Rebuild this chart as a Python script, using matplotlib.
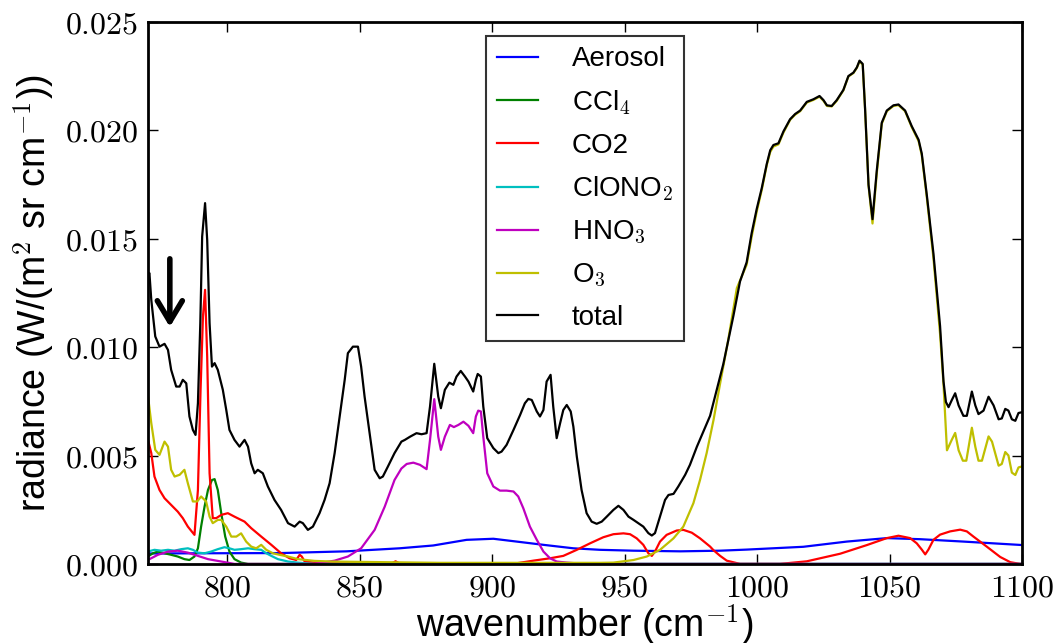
import matplotlib
matplotlib.use("Agg")
import matplotlib.pyplot as plt
from matplotlib.ticker import FuncFormatter, MultipleLocator

plt.rcParams['mathtext.fontset'] = 'cm'
plt.rcParams['font.family'] = ['Liberation Sans', 'DejaVu Sans']

# wavenumber (cm^-1) / radiance pairs
total_x = [770.0, 770.6, 771.3, 772.8, 774.4, 776.3, 777.6, 778.8, 780.7, 782.0, 783.2, 784.5,
           785.7, 787.0, 788.0, 788.9, 789.8, 790.5, 791.6, 792.4, 793.3, 794.2, 795.2, 796.4,
           798.3, 799.6, 800.8, 802.7, 804.6, 806.5, 807.8, 809.0, 810.3, 811.5, 813.4, 815.3,
           817.8, 820.3, 822.9, 825.4, 827.3, 828.5, 830.4, 832.3, 834.8, 836.7, 838.6, 840.5,
           842.4, 844.3, 845.5, 847.4, 849.3, 850.5, 851.8, 853.7, 855.6, 857.5, 858.7, 860.6,
           863.1, 865.7, 867.0, 869.0, 871.4, 873.3, 875.2, 876.5, 878.1, 879.6, 880.6, 882.1,
           883.8, 885.3, 886.5, 888.1, 889.7, 891.0, 892.8, 893.8, 894.5, 895.7, 896.6, 898.1,
           900.4, 902.3, 903.5, 905.4, 908.0, 910.5, 912.3, 913.6, 914.9, 916.8, 918.0, 919.3,
           920.5, 922.0, 923.0, 924.3, 925.6, 926.8, 928.1, 929.6, 930.6, 931.9, 933.7, 935.6,
           937.5, 939.4, 941.3, 943.2, 945.7, 947.6, 949.5, 951.4, 953.3, 955.1, 957.0, 958.9,
           960.2, 961.4, 963.3, 965.2, 966.5, 968.4, 970.2, 972.8, 974.6, 977.2, 982.2, 987.2,
           991.0, 993.5, 996.0, 997.9, 999.8, 1001.7, 1003.6, 1004.9, 1006.1, 1008.0, 1009.9,
           1012.4, 1014.3, 1016.2, 1018.7, 1021.2, 1023.5, 1025.0, 1026.3, 1028.1, 1030.0,
           1032.5, 1034.4, 1036.3, 1037.6, 1038.6, 1039.8, 1040.7, 1042.0, 1043.5, 1045.1,
           1047.0, 1048.9, 1051.4, 1053.3, 1055.8, 1058.3, 1060.9, 1062.1, 1064.0, 1066.5,
           1069.0, 1070.3, 1071.2, 1072.2, 1073.4, 1074.7, 1076.0, 1077.8, 1079.1, 1081.0,
           1082.3, 1083.5, 1085.4, 1087.3, 1089.2, 1091.1, 1092.3, 1093.6, 1094.8, 1096.1,
           1097.4, 1098.6, 1100.0]
total_y = [0.01330, 0.01341, 0.01218, 0.01049, 0.01002, 0.01015, 0.00987, 0.00895, 0.00818,
           0.00818, 0.00849, 0.00833, 0.00680, 0.00618, 0.00595, 0.00741, 0.01110, 0.01510,
           0.01664, 0.01494, 0.01110, 0.00910, 0.00926, 0.00895, 0.00803, 0.00710, 0.00618,
           0.00572, 0.00541, 0.00572, 0.00541, 0.00464, 0.00418, 0.00434, 0.00418, 0.00357,
           0.00295, 0.00249, 0.00188, 0.00172, 0.00195, 0.00188, 0.00157, 0.00172, 0.00234,
           0.00295, 0.00372, 0.00511, 0.00680, 0.00849, 0.00972, 0.01002, 0.01002, 0.00910,
           0.00772, 0.00603, 0.00434, 0.00395, 0.00403, 0.00449, 0.00511, 0.00564, 0.00572,
           0.00587, 0.00603, 0.00598, 0.00603, 0.00726, 0.00923, 0.00772, 0.00718, 0.00803,
           0.00836, 0.00826, 0.00864, 0.00890, 0.00864, 0.00841, 0.00795, 0.00849, 0.00876,
           0.00864, 0.00726, 0.00580, 0.00534, 0.00511, 0.00518, 0.00549, 0.00618, 0.00687,
           0.00741, 0.00761, 0.00756, 0.00703, 0.00680, 0.00710, 0.00841, 0.00872, 0.00726,
           0.00580, 0.00649, 0.00710, 0.00733, 0.00703, 0.00633, 0.00495, 0.00341, 0.00234,
           0.00195, 0.00185, 0.00195, 0.00218, 0.00249, 0.00268, 0.00249, 0.00218, 0.00203,
           0.00188, 0.00172, 0.00142, 0.00131, 0.00142, 0.00218, 0.00295, 0.00318, 0.00323,
           0.00357, 0.00411, 0.00457, 0.00540, 0.00683, 0.00922, 0.01144, 0.01303, 0.01391,
           0.01526, 0.01637, 0.01733, 0.01845, 0.01908, 0.01932, 0.01940, 0.01995, 0.02051,
           0.02075, 0.02091, 0.02131, 0.02143, 0.02158, 0.02139, 0.02115, 0.02112, 0.02139,
           0.02186, 0.02250, 0.02266, 0.02290, 0.02321, 0.02306, 0.02099, 0.01749, 0.01590,
           0.01813, 0.02035, 0.02091, 0.02115, 0.02119, 0.02091, 0.02019, 0.01956, 0.01892,
           0.01701, 0.01431, 0.01097, 0.00842, 0.00747, 0.00723, 0.00755, 0.00787, 0.00731,
           0.00683, 0.00683, 0.00795, 0.00731, 0.00691, 0.00707, 0.00771, 0.00731, 0.00667,
           0.00671, 0.00715, 0.00707, 0.00667, 0.00660, 0.00696, 0.00700]

o3_x = [770.0, 771.3, 772.8, 774.4, 776.3, 777.6, 778.8, 780.1, 782.0, 783.8, 785.1, 787.0,
        788.6, 790.1, 792.0, 793.3, 794.5, 796.4, 797.7, 799.6, 801.5, 803.4, 805.2, 807.1,
        809.0, 810.9, 812.8, 814.7, 817.2, 819.7, 822.9, 826.6, 832.9, 839.2, 845.5, 880.0,
        940.7, 945.7, 953.3, 958.3, 963.3, 968.4, 972.1, 975.9, 978.4, 980.9, 983.5, 986.0,
        989.0, 992.3, 996.0, 997.9, 999.8, 1001.7, 1003.6, 1004.9, 1006.1, 1008.0, 1009.9,
        1012.4, 1014.3, 1016.2, 1018.7, 1021.2, 1023.5, 1025.0, 1026.3, 1028.1, 1030.0,
        1032.5, 1034.4, 1036.3, 1037.6, 1038.6, 1039.8, 1040.7, 1042.0, 1043.5, 1045.1,
        1047.0, 1048.9, 1051.4, 1053.3, 1055.8, 1058.3, 1060.9, 1062.1, 1064.0, 1066.5,
        1069.0, 1070.3, 1071.6, 1073.4, 1074.7, 1076.0, 1077.6, 1078.9, 1081.0, 1082.3,
        1083.5, 1084.8, 1087.3, 1088.6, 1091.1, 1092.3, 1093.6, 1094.8, 1096.1, 1097.4,
        1098.6, 1100.0]
o3_y = [0.00780, 0.00649, 0.00526, 0.00503, 0.00564, 0.00541, 0.00434, 0.00403, 0.00411,
        0.00434, 0.00372, 0.00288, 0.00288, 0.00311, 0.00288, 0.00218, 0.00188, 0.00203,
        0.00203, 0.00172, 0.00126, 0.00126, 0.00141, 0.00103, 0.00080, 0.00072, 0.00088,
        0.00065, 0.00049, 0.00042, 0.00034, 0.00022, 0.00014, 0.00011, 0.00010, 0.00005,
        0.00005, 0.00006, 0.00018, 0.00034, 0.00065, 0.00118, 0.00172, 0.00280, 0.00387,
        0.00511, 0.00664, 0.00833, 0.01030, 0.01272, 0.01380, 0.01510, 0.01625, 0.01725,
        0.01840, 0.01900, 0.01925, 0.01935, 0.01990, 0.02048, 0.02072, 0.02088, 0.02128,
        0.02140, 0.02155, 0.02136, 0.02112, 0.02110, 0.02136, 0.02184, 0.02248, 0.02264,
        0.02288, 0.02318, 0.02303, 0.02095, 0.01745, 0.01570, 0.01800, 0.02030, 0.02088,
        0.02112, 0.02116, 0.02088, 0.02015, 0.01950, 0.01885, 0.01690, 0.01410, 0.01060,
        0.00827, 0.00524, 0.00572, 0.00604, 0.00524, 0.00476, 0.00476, 0.00628, 0.00540,
        0.00476, 0.00476, 0.00588, 0.00564, 0.00453, 0.00461, 0.00516, 0.00500, 0.00421,
        0.00410, 0.00445, 0.00450]

co2_x = [770.0, 771.3, 772.5, 774.4, 776.3, 778.8, 781.3, 783.2, 785.1, 787.6, 788.9, 789.9,
         790.8, 791.6, 792.4, 793.3, 794.5, 795.8, 797.7, 800.2, 802.7, 806.5, 809.0, 812.8,
         816.6, 820.3, 823.5, 826.0, 827.3, 828.1, 829.2, 832.9, 839.2, 862.0, 863.5, 865.0,
         909.2, 915.5, 921.8, 926.8, 931.9, 936.9, 941.9, 945.7, 949.5, 952.0, 954.5, 957.0,
         958.9, 960.2, 961.4, 963.3, 965.8, 969.6, 972.1, 975.3, 978.4, 982.2, 983.5, 986.0,
         988.5, 993.5, 1008.6, 1018.7, 1031.3, 1041.4, 1048.9, 1053.3, 1057.7, 1060.2, 1062.1,
         1063.4, 1064.6, 1066.5, 1069.0, 1072.8, 1076.6, 1079.1, 1081.6, 1086.7, 1091.7,
         1095.5, 1099.2, 1100.0]
co2_y = [0.00575, 0.00511, 0.00403, 0.00341, 0.00303, 0.00272, 0.00241, 0.00211, 0.00172,
         0.00134, 0.00341, 0.00803, 0.01141, 0.01264, 0.00956, 0.00418, 0.00211, 0.00211,
         0.00226, 0.00234, 0.00218, 0.00195, 0.00165, 0.00126, 0.00088, 0.00049, 0.00026,
         0.00018, 0.00042, 0.00034, 0.00011, 0.00006, 0.00003, 0.00002, 0.00012, 0.00002,
         0.00003, 0.00015, 0.00026, 0.00037, 0.00065, 0.00095, 0.00123, 0.00137, 0.00141,
         0.00137, 0.00118, 0.00088, 0.00049, 0.00037, 0.00057, 0.00103, 0.00134, 0.00154,
         0.00157, 0.00144, 0.00118, 0.00080, 0.00063, 0.00037, 0.00015, 0.00000, 0.00000,
         0.00012, 0.00047, 0.00087, 0.00119, 0.00130, 0.00119, 0.00095, 0.00066, 0.00044,
         0.00066, 0.00111, 0.00135, 0.00150, 0.00158, 0.00150, 0.00126, 0.00079, 0.00032,
         0.00008, 0.00000, 0.00000]

aerosol_x = [770.0, 790.0, 820.0, 845.0, 865.0, 877.7, 890.3, 900.4, 909.2, 919.3, 930.6,
             940.7, 953.3, 971.0, 986.0, 996.0, 1017.4, 1033.8, 1048.9, 1061.5, 1077.8, 1100.0]
aerosol_y = [0.00048, 0.00049, 0.00050, 0.00058, 0.00072, 0.00085, 0.00111, 0.00116, 0.00103,
             0.00088, 0.00072, 0.00065, 0.00061, 0.00058, 0.00061, 0.00066, 0.00079, 0.00103,
             0.00119, 0.00114, 0.00103, 0.00087]

ccl4_x = [770.0, 771.9, 773.8, 776.3, 778.8, 781.3, 783.8, 785.7, 787.6, 788.9, 790.1, 791.4,
          792.7, 794.2, 795.2, 796.4, 797.7, 799.2, 800.8, 802.7, 805.2, 807.8, 1100.0]
ccl4_y = [0.00034, 0.00049, 0.00057, 0.00049, 0.00042, 0.00034, 0.00022, 0.00018, 0.00034,
          0.00072, 0.00172, 0.00264, 0.00341, 0.00387, 0.00391, 0.00341, 0.00234, 0.00126,
          0.00057, 0.00022, 0.00006, 0.0, 0.0]

clono2_x = [770.0, 772.5, 775.0, 777.6, 780.1, 782.6, 785.1, 787.0, 788.9, 791.4, 793.9, 796.4,
            798.9, 800.8, 802.7, 805.2, 807.8, 810.3, 812.8, 814.7, 816.6, 819.1, 822.9, 826.6,
            832.9, 1100.0]
clono2_y = [0.00057, 0.00065, 0.00061, 0.00065, 0.00061, 0.00068, 0.00072, 0.00065, 0.00052,
            0.00049, 0.00057, 0.00068, 0.00077, 0.00072, 0.00065, 0.00068, 0.00072, 0.00068,
            0.00065, 0.00049, 0.00037, 0.00022, 0.00011, 0.00006, 0.0, 0.0]

hno3_x = [770.0, 773.8, 777.6, 781.3, 785.1, 788.9, 792.7, 797.7, 802.7, 832.9, 840.5, 845.5,
          850.5, 855.6, 859.4, 863.1, 865.7, 867.7, 870.2, 872.7, 875.2, 876.5, 878.1, 879.6,
          880.6, 882.1, 884.0, 885.5, 887.2, 889.1, 891.0, 892.8, 893.8, 894.7, 895.7, 896.6,
          898.1, 900.4, 902.9, 905.4, 908.0, 909.8, 911.7, 914.2, 916.8, 919.3, 921.8, 924.3,
          928.1, 935.0, 1100.0]
hno3_y = [0.00018, 0.00042, 0.00057, 0.00061, 0.00052, 0.00037, 0.00022, 0.00011, 0.0, 0.0,
          0.00015, 0.00034, 0.00072, 0.00157, 0.00264, 0.00387, 0.00440, 0.00461, 0.00467,
          0.00457, 0.00437, 0.00572, 0.00760, 0.00587, 0.00526, 0.00587, 0.00641, 0.00631,
          0.00641, 0.00656, 0.00637, 0.00603, 0.00680, 0.00707, 0.00703, 0.00587, 0.00418,
          0.00357, 0.00338, 0.00338, 0.00334, 0.00311, 0.00257, 0.00172, 0.00111, 0.00057,
          0.00026, 0.00011, 0.00006, 0.0, 0.0]

series = [
    ('Aerosol', aerosol_x, aerosol_y, 'b'),
    ('CCl$_4$', ccl4_x, ccl4_y, 'g'),
    ('CO2', co2_x, co2_y, 'r'),
    ('ClONO$_2$', clono2_x, clono2_y, 'c'),
    ('HNO$_3$', hno3_x, hno3_y, 'm'),
    ('O$_3$', o3_x, o3_y, 'y'),
    ('total', total_x, total_y, 'k'),
]
# old-style matplotlib single-letter colours
colors = {'b': (0, 0, 1), 'g': (0, 0.5, 0), 'r': (1, 0, 0), 'c': (0, 0.75, 0.75),
          'm': (0.75, 0, 0.75), 'y': (0.75, 0.75, 0), 'k': (0, 0, 0)}

fig = plt.figure(figsize=(10.56, 6.43), dpi=100)
ax = fig.add_axes([0.140, 0.123, 0.828, 0.843])

for label, xs, ys, c in series:
    ax.plot(xs, ys, color=colors[c], lw=1.6, label=label)

ax.set_xlim(770, 1100)
ax.set_ylim(0, 0.025)
ax.xaxis.set_major_locator(MultipleLocator(50))
ax.yaxis.set_major_locator(MultipleLocator(0.005))
ax.xaxis.set_major_formatter(FuncFormatter(lambda v, p: r'$%d$' % round(v)))
ax.yaxis.set_major_formatter(FuncFormatter(lambda v, p: r'$%.3f$' % v))
ax.tick_params(direction='in', length=7, width=1, top=True, right=True,
               labelsize=23, pad=7)
for sp in ax.spines.values():
    sp.set_linewidth(2)

ax.set_xlabel('wavenumber (cm$^{-1}$)', fontsize=27, labelpad=-1)
ax.set_ylabel('radiance (W/(m$^2$ sr cm$^{-1}$))', fontsize=27, labelpad=6)

ax.annotate('', xy=(778.3, 0.0108), xytext=(778.3, 0.0142),
            arrowprops=dict(arrowstyle='->,head_length=0.5,head_width=0.3',
                            lw=4, color='k', mutation_scale=30))

leg = ax.legend(loc='upper center', fontsize=20, handlelength=1.5, handletextpad=1.2,
                labelspacing=0.57, borderpad=0.38, fancybox=False)
leg.get_frame().set_edgecolor('k')
leg.get_frame().set_linewidth(1.5)

fig.savefig('out.png', dpi=100, facecolor='white')
